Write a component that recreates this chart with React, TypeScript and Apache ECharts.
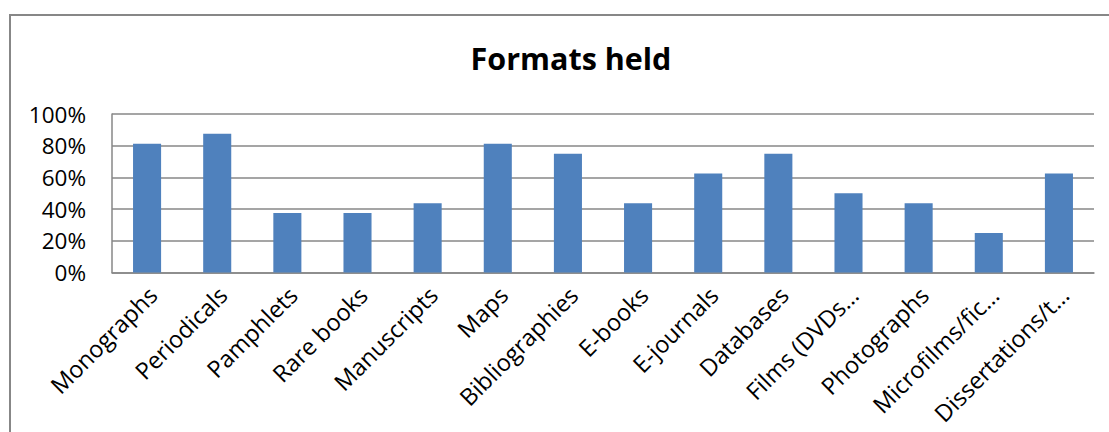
import React, { useEffect, useRef } from "react";
import * as echarts from "echarts";

const categories = [
  "Monographs",
  "Periodicals",
  "Pamphlets",
  "Rare books",
  "Manuscripts",
  "Maps",
  "Bibliographies",
  "E-books",
  "E-journals",
  "Databases",
  "Films (DVDs…",
  "Photographs",
  "Microfilms/fic…",
  "Dissertations/t…",
];

// Share of respondents holding each format, in percent
const heldPercent = [81.25, 87.5, 37.5, 37.5, 43.75, 81.25, 75, 43.75, 62.5, 75, 50, 43.75, 25, 62.5];

const titleText = "Formats held";
const FONT = "'Open Sans', 'DejaVu Sans', sans-serif";

export default function App() {
  const ref = useRef<HTMLDivElement>(null);

  useEffect(() => {
    if (!ref.current) return;
    const chart = echarts.init(ref.current, undefined, { renderer: "svg" });
    chart.setOption({
      animation: false,
      backgroundColor: "#ffffff",
      graphic: [
        {
          type: "rect",
          shape: { x: 10, y: 15, width: 1300, height: 600 },
          style: { fill: "none", stroke: "#878787", lineWidth: 2 },
          silent: true,
        },
      ],
      title: {
        text: titleText,
        left: 566,
        textAlign: "center",
        top: 37,
        textStyle: { fontFamily: FONT, fontSize: 30.5, fontWeight: "bold", color: "#000000" },
      },
      grid: {
        left: 112,
        right: 15,
        top: 114,
        bottom: 159.5,
        containLabel: false,
        outerBoundsMode: "none",
      },
      xAxis: {
        type: "category",
        data: categories,
        axisLine: { show: true, lineStyle: { color: "#878787", width: 1.5 } },
        axisTick: { show: false },
        axisLabel: {
          interval: 0,
          rotate: 45,
          margin: 24,
          padding: [0, -8, 0, 0],
          fontFamily: FONT,
          fontSize: 23.5,
          color: "#000000",
        },
      },
      yAxis: {
        type: "value",
        min: 0,
        max: 100,
        interval: 20,
        axisLine: { show: true, lineStyle: { color: "#878787", width: 1.5 } },
        axisTick: { show: false },
        splitLine: { show: true, lineStyle: { color: "#878787", width: 1.5 } },
        axisLabel: {
          margin: 26,
          formatter: "{value}%",
          fontFamily: FONT,
          fontSize: 22.5,
          color: "#000000",
        },
      },
      series: [
        {
          type: "bar",
          data: heldPercent,
          barWidth: "40%",
          itemStyle: { color: "#4F81BD" },
        },
      ],
    });
    return () => chart.dispose();
  }, []);

  return (
    <div
      ref={ref}
      style={{ position: "fixed", left: 0, top: 0, width: 1109, height: 432 }}
    />
  );
}
